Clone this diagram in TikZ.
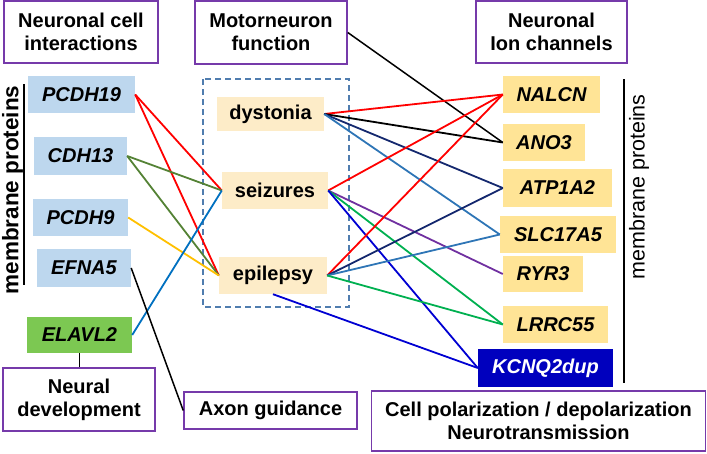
\documentclass[tikz,border=0pt]{standalone}
\usepackage{fontspec}
\setmainfont{Liberation Sans}
\definecolor{boxpurple}{RGB}{118,58,170}
\definecolor{lblue}{RGB}{189,215,238}
\definecolor{lgreen}{RGB}{124,200,82}
\definecolor{mbeige}{RGB}{253,236,200}
\definecolor{ryellow}{RGB}{255,228,150}
\definecolor{kblue}{RGB}{0,0,190}
\definecolor{dashblue}{RGB}{80,125,175}
\definecolor{cred}{RGB}{255,0,0}
\definecolor{colive}{RGB}{84,130,53}
\definecolor{cyellow}{RGB}{255,192,0}
\definecolor{cblue}{RGB}{0,112,192}
\definecolor{cnavy}{RGB}{20,40,110}
\definecolor{csteel}{RGB}{46,117,182}
\definecolor{cpurple}{RGB}{112,48,160}
\definecolor{cgreen}{RGB}{0,176,80}
\definecolor{cdblue}{RGB}{0,0,210}
\begin{document}
\begin{tikzpicture}[x=1pt,y=-1pt,
  titlebox/.style={draw=boxpurple, line width=1.5pt, fill=white, inner sep=0pt, align=center,
    font=\bfseries\fontsize{20}{23}\selectfont},
  gene/.style={inner sep=0pt, font=\bfseries\itshape\fontsize{20}{24}\selectfont},
  lgene/.style={gene, fill=lblue},
  rgene/.style={gene, fill=ryellow},
  midbox/.style={inner sep=0pt, fill=mbeige, font=\bfseries\fontsize{20}{24}\selectfont},
  conn/.style={line width=1.8pt},
  bar/.style={line width=1.5pt, black}]
\useasboundingbox (0,0) rectangle (707,453);

% title boxes
\node[titlebox, minimum width=154pt, minimum height=62pt] (nci) at (81,32) {Neuronal cell\\interactions};
\node[titlebox, minimum width=152pt, minimum height=63pt] (mf) at (271,32.5) {Motorneuron\\function};
\node[titlebox, minimum width=151pt, minimum height=62pt] (nic) at (551.5,32) {Neuronal\\Ion channels};
\node[titlebox, minimum width=152pt, minimum height=63pt] (nd) at (79,399.5) {Neural\\development};
\node[titlebox, minimum width=173pt, minimum height=37pt] (ag) at (270.5,410.5) {Axon guidance};
\node[titlebox, minimum width=334pt, minimum height=60pt] (cp) at (538.5,421) {Cell polarization / depolarization\\Neurotransmission};

% left genes
\node[lgene, minimum width=107pt, minimum height=37pt] (pcdh19) at (81.5,94.5) {PCDH19};
\node[lgene, minimum width=93pt, minimum height=38pt] (cdh13) at (80.5,156) {CDH13};
\node[lgene, minimum width=95pt, minimum height=37pt] (pcdh9) at (80.5,217.5) {PCDH9};
\node[lgene, minimum width=94pt, minimum height=38pt] (efna5) at (84,268) {EFNA5};
\node[gene, fill=lgreen, minimum width=105pt, minimum height=36pt] (elavl2) at (79.5,335) {ELAVL2};

% membrane bars
\coordinate (lbt) at (24,84);
\coordinate (lbb) at (24,285);
\draw[bar] (lbt) -- (lbb);
\node[rotate=90, inner sep=0pt, font=\bfseries\fontsize{22.5}{24}\selectfont] (lmp) at (12.5,190) {membrane proteins};
\coordinate (rbt) at (624,79);
\coordinate (rbb) at (624,383);
\draw[bar] (rbt) -- (rbb);
\node[rotate=90, inner sep=0pt, font=\fontsize{21.5}{24}\selectfont] (rmp) at (639,187) {membrane proteins};

% middle
\coordinate (dbtl) at (203,79);
\coordinate (dbbr) at (349,307);
\draw[dashblue, line width=1.5pt, dash pattern=on 6pt off 4pt] (dbtl) rectangle (dbbr);
\node[midbox, minimum width=107pt, minimum height=34pt] (dys) at (270.5,114) {dystonia};
\node[midbox, minimum width=106pt, minimum height=37pt] (sei) at (275,190.5) {seizures};
\node[midbox, minimum width=108pt, minimum height=37pt] (epi) at (273,275.5) {epilepsy};

% right genes
\node[rgene, minimum width=97pt, minimum height=37pt] (nalcn) at (551.5,94.5) {NALCN};
\node[rgene, minimum width=82pt, minimum height=37pt] (ano3) at (544,142.5) {ANO3};
\node[rgene, minimum width=109pt, minimum height=38pt] (atp) at (557.5,188) {ATP1A2};
\node[rgene, minimum width=116pt, minimum height=37pt] (slc) at (558,234.5) {SLC17A5};
\node[rgene, minimum width=80pt, minimum height=36pt] (ryr3) at (543,274) {RYR3};
\node[rgene, minimum width=105pt, minimum height=37pt] (lrrc) at (555.5,324.5) {LRRC55};
\node[gene, fill=kblue, text=white, minimum width=135pt, minimum height=38pt] (kcnq) at (545.5,368) {KCNQ2dup};

% left connectors
\draw[conn, cred] (pcdh19.east) -- (sei.west);
\draw[conn, cred] (pcdh19.east) -- (epi.west);
\draw[conn, colive] (cdh13.east) -- (sei.west);
\draw[conn, colive] (cdh13.east) -- (epi.west);
\draw[conn, cyellow] (pcdh9.east) -- (epi.west);
\draw[conn, cblue] (elavl2.east) -- (sei.west);
\draw[line width=1.5pt, black] (efna5.east) -- (ag.west);
\draw[line width=1.5pt, black] (elavl2.south) -- (elavl2.south |- nd.north);

% right connectors
\draw[line width=1.5pt, black] (mf.east) -- (ano3.west);
\draw[conn, cred] (dys.east) -- (nalcn.west);
\draw[conn, black] (dys.east) -- (ano3.west);
\draw[conn, cnavy] (dys.east) -- (atp.west);
\draw[conn, csteel] (dys.east) -- (slc.west);
\draw[conn, cred] (sei.east) -- (nalcn.west);
\draw[conn, cpurple] (sei.east) -- (ryr3.west);
\draw[conn, cgreen] (sei.east) -- (lrrc.west);
\draw[conn, cdblue] (sei.east) -- (kcnq.west);
\draw[conn, cred] (epi.east) -- (nalcn.west);
\draw[conn, cnavy] (epi.east) -- (atp.west);
\draw[conn, csteel] (epi.east) -- (slc.west);
\draw[conn, cgreen] (epi.east) -- (lrrc.west);
\draw[conn, cdblue] (epi.south) -- (kcnq.west);
\end{tikzpicture}
\end{document}
